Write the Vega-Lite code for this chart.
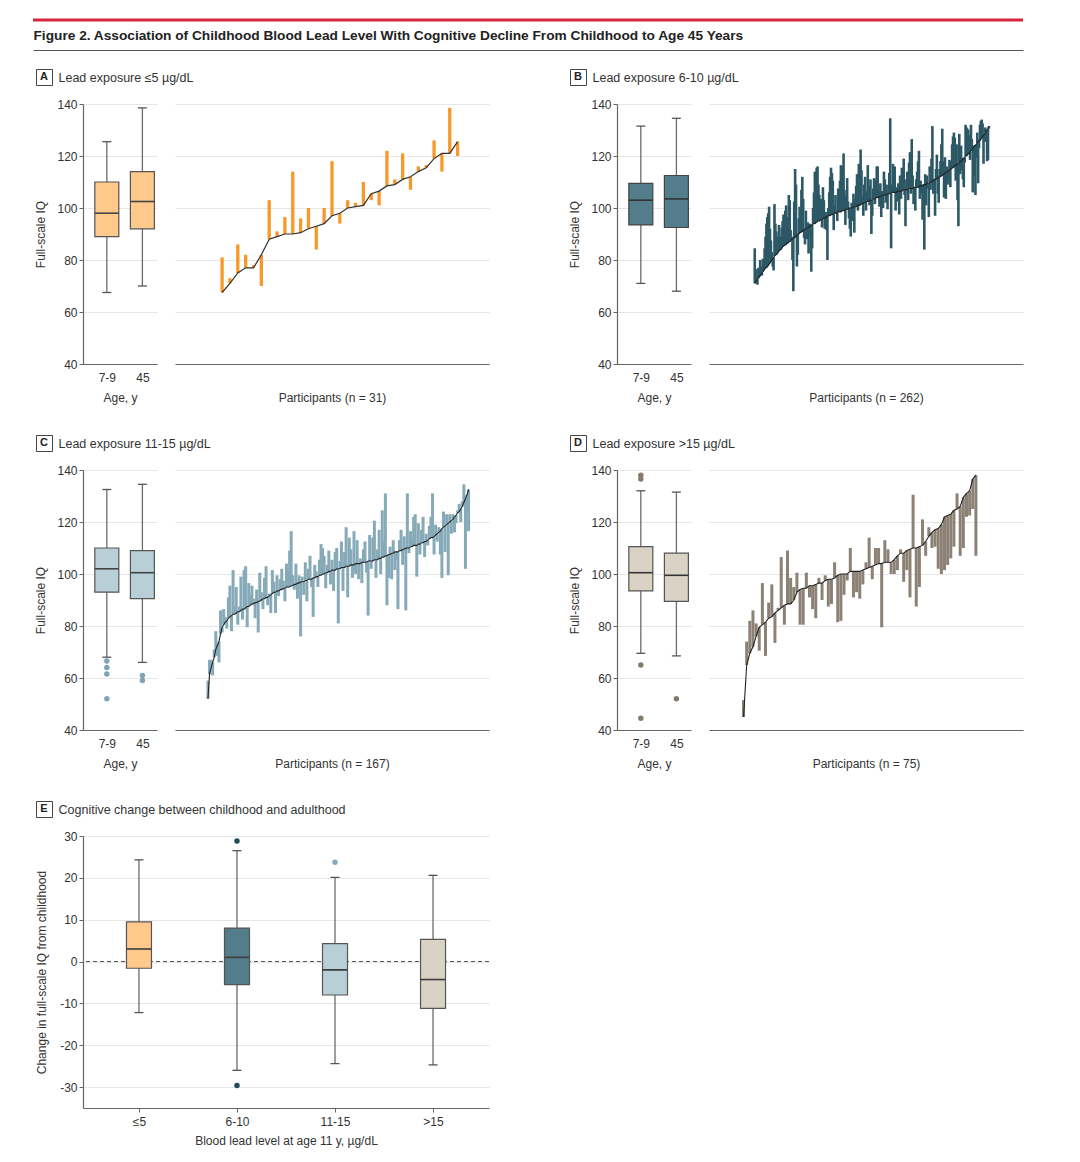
{
"$schema": "https://vega.github.io/schema/vega-lite/v6.json",
"padding": {"left": 31, "top": 18, "right": 5, "bottom": 5},
"background": "white",
"config": {
  "font": "Liberation Sans",
  "view": {"stroke": null},
  "axis": {"labelFont": "Liberation Sans", "titleFont": "Liberation Sans", "labelFontSize": 12, "labelColor": "#333", "titleFontSize": 12, "titleFontWeight": "normal", "titleColor": "#333", "domainColor": "#666", "tickColor": "#666", "gridColor": "#e6e6e6", "domainWidth": 1.2}
},
"datasets": {
"let": [{"t":"A"},{"t":"B"},{"t":"C"},{"t":"D"},{"t":"E"}],
"box": [
{"p":"A","g":"7-9","lo":67.5,"q1":89,"med":98,"q3":110,"hi":125.5},
{"p":"A","g":"45","lo":70,"q1":92,"med":102.5,"q3":114,"hi":138.5},
{"p":"B","g":"7-9","lo":71,"q1":93.5,"med":103,"q3":109.5,"hi":131.5},
{"p":"B","g":"45","lo":68,"q1":92.5,"med":103.5,"q3":112.5,"hi":134.5},
{"p":"C","g":"7-9","lo":68,"q1":93,"med":102,"q3":110,"hi":132.5},
{"p":"C","g":"45","lo":66,"q1":90.5,"med":100.5,"q3":109,"hi":134.5},
{"p":"D","g":"7-9","lo":69.5,"q1":93.5,"med":100.5,"q3":110.5,"hi":132},
{"p":"D","g":"45","lo":68.5,"q1":89.5,"med":99.5,"q3":108,"hi":131.5}
],
"out": [
{"p":"C","g":"7-9","v":66.5},{"p":"C","g":"7-9","v":64},{"p":"C","g":"7-9","v":61.5},{"p":"C","g":"7-9","v":52},
{"p":"C","g":"45","v":61},{"p":"C","g":"45","v":59},
{"p":"D","g":"7-9","v":138},{"p":"D","g":"7-9","v":136.5},{"p":"D","g":"7-9","v":65},{"p":"D","g":"7-9","v":44.5},
{"p":"D","g":"45","v":52}
],
"ebox": [
{"g":"≤5","lo":-12.2,"q1":-1.6,"med":3,"q3":9.5,"hi":24.3},
{"g":"6-10","lo":-26,"q1":-5.5,"med":1,"q3":8,"hi":26.5},
{"g":"11-15","lo":-24.4,"q1":-8,"med":-2,"q3":4.3,"hi":20.1},
{"g":">15","lo":-24.7,"q1":-11.2,"med":-4.3,"q3":5.3,"hi":20.6}
],
"eout": [{"g":"6-10","v":28.8},{"g":"6-10","v":-29.6},{"g":"11-15","v":23.7}],
"ezero": [{"z":0}],
"hdr": [{"v":0},{"v":1}],
"pa": [{"i":1,"c":67.5,"a":81},{"i":2,"c":71,"a":73},{"i":3,"c":75,"a":86},{"i":4,"c":77,"a":82},{"i":5,"c":77,"a":78},{"i":6,"c":82,"a":70},{"i":7,"c":88,"a":103},{"i":8,"c":89,"a":91},{"i":9,"c":90,"a":96.5},{"i":10,"c":90,"a":114},{"i":11,"c":90.5,"a":96},{"i":12,"c":92,"a":100},{"i":13,"c":93,"a":84},{"i":14,"c":94,"a":100},{"i":15,"c":97,"a":118},{"i":16,"c":98,"a":94},{"i":17,"c":100,"a":103},{"i":18,"c":100.5,"a":102},{"i":19,"c":101,"a":110},{"i":20,"c":105.5,"a":103},{"i":21,"c":106.5,"a":101},{"i":22,"c":108.5,"a":122},{"i":23,"c":109,"a":111},{"i":24,"c":111,"a":121},{"i":25,"c":112,"a":107},{"i":26,"c":114,"a":116},{"i":27,"c":115.5,"a":116.5},{"i":28,"c":119,"a":126},{"i":29,"c":121,"a":114},{"i":30,"c":121,"a":138.5},{"i":31,"c":125.5,"a":120}],
"pb": [{"i":1,"c":71,"a":84.5},{"i":2,"c":71.5,"a":76.5},{"i":3,"c":72,"a":74},{"i":4,"c":72.5,"a":70.5},{"i":5,"c":73,"a":77},{"i":6,"c":73.5,"a":74.5},{"i":7,"c":74,"a":80},{"i":8,"c":74.5,"a":77.5},{"i":9,"c":75,"a":74},{"i":10,"c":75.5,"a":80.5},
{"i":11,"c":76,"a":79},{"i":12,"c":76.5,"a":84.5},{"i":13,"c":77,"a":89},{"i":14,"c":77,"a":94},{"i":15,"c":77.5,"a":96.5},{"i":16,"c":78,"a":98},{"i":17,"c":78.5,"a":100.5},{"i":18,"c":79,"a":92},{"i":19,"c":79.5,"a":87.5},{"i":20,"c":80,"a":83},
{"i":21,"c":80.5,"a":77.5},{"i":22,"c":81,"a":76},{"i":23,"c":81.5,"a":101.5},{"i":24,"c":82,"a":94},{"i":25,"c":82,"a":91},{"i":26,"c":82.5,"a":86.5},{"i":27,"c":83,"a":89},{"i":28,"c":83.5,"a":93.5},{"i":29,"c":84,"a":86},{"i":30,"c":84,"a":89},
{"i":31,"c":84.5,"a":92.5},{"i":32,"c":85,"a":95},{"i":33,"c":85.5,"a":97.5},{"i":34,"c":85.5,"a":91.5},{"i":35,"c":86,"a":99},{"i":36,"c":86,"a":101},{"i":37,"c":86.5,"a":92.5},{"i":38,"c":86.5,"a":96.5},{"i":39,"c":87,"a":105},{"i":40,"c":87,"a":103},
{"i":41,"c":87.5,"a":91.5},{"i":42,"c":88,"a":89},{"i":43,"c":88,"a":80},{"i":44,"c":88.5,"a":68},{"i":45,"c":88.5,"a":102.5},{"i":46,"c":89,"a":115},{"i":47,"c":89,"a":109},{"i":48,"c":89.5,"a":77.5},{"i":49,"c":90,"a":82},{"i":50,"c":90,"a":96},
{"i":51,"c":90.5,"a":100.5},{"i":52,"c":90.5,"a":95.5},{"i":53,"c":91,"a":107},{"i":54,"c":91,"a":112},{"i":55,"c":91.5,"a":103.5},{"i":56,"c":91.5,"a":88.5},{"i":57,"c":92,"a":86},{"i":58,"c":92,"a":99},{"i":59,"c":92,"a":88},{"i":60,"c":92.5,"a":94.5},
{"i":61,"c":92.5,"a":82.5},{"i":62,"c":93,"a":94},{"i":63,"c":93,"a":89},{"i":64,"c":93.5,"a":75.5},{"i":65,"c":93.5,"a":84.5},{"i":66,"c":94,"a":100},{"i":67,"c":94,"a":106},{"i":68,"c":94,"a":114},{"i":69,"c":94.5,"a":111.5},{"i":70,"c":94.5,"a":115.5},
{"i":71,"c":95,"a":116},{"i":72,"c":95,"a":109},{"i":73,"c":95,"a":105},{"i":74,"c":95.5,"a":99.5},{"i":75,"c":95.5,"a":103.5},{"i":76,"c":95.5,"a":92.5},{"i":77,"c":96,"a":108},{"i":78,"c":96,"a":103},{"i":79,"c":96,"a":92},{"i":80,"c":96.5,"a":98.5},
{"i":81,"c":96.5,"a":91.5},{"i":82,"c":97,"a":80},{"i":83,"c":97,"a":100},{"i":84,"c":97,"a":106},{"i":85,"c":97,"a":112},{"i":86,"c":97.5,"a":115.5},{"i":87,"c":97.5,"a":113.5},{"i":88,"c":97.5,"a":110.5},{"i":89,"c":97.5,"a":91.5},{"i":90,"c":98,"a":101},
{"i":91,"c":98,"a":105},{"i":92,"c":98,"a":99},{"i":93,"c":98,"a":95},{"i":94,"c":98.5,"a":107.5},{"i":95,"c":98.5,"a":102.5},{"i":96,"c":98.5,"a":110.5},{"i":97,"c":98.5,"a":116.5},{"i":98,"c":99,"a":113},{"i":99,"c":99,"a":116},{"i":100,"c":99,"a":121},
{"i":101,"c":99,"a":107},{"i":102,"c":99.5,"a":93.5},{"i":103,"c":99.5,"a":104.5},{"i":104,"c":99.5,"a":111.5},{"i":105,"c":99.5,"a":102.5},{"i":106,"c":100,"a":96},{"i":107,"c":100,"a":92},{"i":108,"c":100,"a":89},{"i":109,"c":100,"a":102},{"i":110,"c":100,"a":95},
{"i":111,"c":100.5,"a":105.5},{"i":112,"c":100.5,"a":90.5},{"i":113,"c":100.5,"a":103.5},{"i":114,"c":100.5,"a":108.5},{"i":115,"c":101,"a":113},{"i":116,"c":101,"a":99},{"i":117,"c":101,"a":117},{"i":118,"c":101,"a":110},{"i":119,"c":101.5,"a":122.5},{"i":120,"c":101.5,"a":114.5},
{"i":121,"c":101.5,"a":104.5},{"i":122,"c":102,"a":97},{"i":123,"c":102,"a":109},{"i":124,"c":102,"a":112},{"i":125,"c":102,"a":99},{"i":126,"c":102.5,"a":106.5},{"i":127,"c":102.5,"a":116.5},{"i":128,"c":102.5,"a":108.5},{"i":129,"c":103,"a":101},{"i":130,"c":103,"a":111},
{"i":131,"c":103,"a":90},{"i":132,"c":103,"a":97},{"i":133,"c":103.5,"a":107.5},{"i":134,"c":103.5,"a":111.5},{"i":135,"c":103.5,"a":101.5},{"i":136,"c":104,"a":111},{"i":137,"c":104,"a":116},{"i":138,"c":104,"a":116},{"i":139,"c":104,"a":107},{"i":140,"c":104.5,"a":100.5},
{"i":141,"c":104.5,"a":109.5},{"i":142,"c":104.5,"a":96.5},{"i":143,"c":104.5,"a":106.5},{"i":144,"c":105,"a":100},{"i":145,"c":105,"a":114},{"i":146,"c":105,"a":111},{"i":147,"c":105,"a":102},{"i":148,"c":105,"a":109},{"i":149,"c":105.5,"a":99.5},{"i":150,"c":105.5,"a":106.5},
{"i":151,"c":105.5,"a":113.5},{"i":152,"c":105.5,"a":134.5},{"i":153,"c":105.5,"a":84.5},{"i":154,"c":106,"a":109},{"i":155,"c":106,"a":117},{"i":156,"c":106,"a":110},{"i":157,"c":106,"a":116},{"i":158,"c":106,"a":99},{"i":159,"c":106,"a":108},{"i":160,"c":106.5,"a":102.5},
{"i":161,"c":106.5,"a":109.5},{"i":162,"c":106.5,"a":97.5},{"i":163,"c":106.5,"a":112.5},{"i":164,"c":106.5,"a":103.5},{"i":165,"c":106.5,"a":115.5},{"i":166,"c":107,"a":112},{"i":167,"c":107,"a":119},{"i":168,"c":107,"a":105},{"i":169,"c":107,"a":93},{"i":170,"c":107,"a":111},
{"i":171,"c":107,"a":114},{"i":172,"c":107,"a":103},{"i":173,"c":107.5,"a":117.5},{"i":174,"c":107.5,"a":121.5},{"i":175,"c":107.5,"a":105.5},{"i":176,"c":107.5,"a":126.5},{"i":177,"c":107.5,"a":112.5},{"i":178,"c":107.5,"a":101.5},{"i":179,"c":108,"a":105},{"i":180,"c":108,"a":99},
{"i":181,"c":108,"a":111},{"i":182,"c":108,"a":114},{"i":183,"c":108,"a":118},{"i":184,"c":108,"a":122},{"i":185,"c":108.5,"a":103.5},{"i":186,"c":108.5,"a":110.5},{"i":187,"c":108.5,"a":105.5},{"i":188,"c":108.5,"a":95.5},{"i":189,"c":109,"a":103},{"i":190,"c":109,"a":84},
{"i":191,"c":109,"a":113},{"i":192,"c":109,"a":101},{"i":193,"c":109.5,"a":112.5},{"i":194,"c":109.5,"a":107.5},{"i":195,"c":109.5,"a":96.5},{"i":196,"c":110,"a":116},{"i":197,"c":110,"a":107},{"i":198,"c":110,"a":119},{"i":199,"c":110.5,"a":131.5},{"i":200,"c":110.5,"a":105.5},
{"i":201,"c":111,"a":109},{"i":202,"c":111,"a":97},{"i":203,"c":111,"a":115},{"i":204,"c":111.5,"a":120.5},{"i":205,"c":111.5,"a":105.5},{"i":206,"c":112,"a":102},{"i":207,"c":112,"a":115},{"i":208,"c":112,"a":118},{"i":209,"c":112.5,"a":124.5},{"i":210,"c":112.5,"a":130.5},
{"i":211,"c":113,"a":118},{"i":212,"c":113,"a":104},{"i":213,"c":113.5,"a":119.5},{"i":214,"c":113.5,"a":103.5},{"i":215,"c":114,"a":116},{"i":216,"c":114,"a":109},{"i":217,"c":114.5,"a":111.5},{"i":218,"c":114.5,"a":118.5},{"i":219,"c":115,"a":108},{"i":220,"c":115,"a":118},
{"i":221,"c":115.5,"a":124.5},{"i":222,"c":115.5,"a":127.5},{"i":223,"c":116,"a":129},{"i":224,"c":116,"a":127},{"i":225,"c":116.5,"a":110.5},{"i":226,"c":116.5,"a":124.5},{"i":227,"c":117,"a":103},{"i":228,"c":117,"a":93},{"i":229,"c":117.5,"a":128.5},{"i":230,"c":118,"a":113},
{"i":231,"c":118,"a":124},{"i":232,"c":118.5,"a":114.5},{"i":233,"c":119,"a":111},{"i":234,"c":119,"a":108},{"i":235,"c":119.5,"a":117.5},{"i":236,"c":120,"a":132},{"i":237,"c":120,"a":131},{"i":238,"c":120.5,"a":130.5},{"i":239,"c":121,"a":130},{"i":240,"c":121,"a":128},
{"i":241,"c":121.5,"a":118.5},{"i":242,"c":122,"a":132},{"i":243,"c":122.5,"a":126.5},{"i":244,"c":123,"a":106},{"i":245,"c":123.5,"a":115.5},{"i":246,"c":124,"a":112},{"i":247,"c":124,"a":105},{"i":248,"c":124.5,"a":119.5},{"i":249,"c":125,"a":129},{"i":250,"c":125.5,"a":109.5},
{"i":251,"c":126,"a":123},{"i":252,"c":126,"a":132},{"i":253,"c":126.5,"a":133.5},{"i":254,"c":127,"a":134},{"i":255,"c":127.5,"a":132.5},{"i":256,"c":128,"a":117},{"i":257,"c":128.5,"a":125.5},{"i":258,"c":129,"a":131},{"i":259,"c":129.5,"a":125.5},{"i":260,"c":130,"a":118},
{"i":261,"c":130.5,"a":118.5},{"i":262,"c":131.5,"a":130.5}],
"pc": [{"i":1,"c":52,"a":59},{"i":2,"c":61.5,"a":67},{"i":3,"c":64,"a":67},{"i":4,"c":66,"a":61},{"i":5,"c":68,"a":71},{"i":6,"c":71,"a":78},{"i":7,"c":72.5,"a":68.5},{"i":8,"c":74,"a":66},{"i":9,"c":77,"a":86},{"i":10,"c":79.5,"a":77.5},
{"i":11,"c":80.5,"a":86.5},{"i":12,"c":81.5,"a":83.5},{"i":13,"c":82,"a":79},{"i":14,"c":83,"a":91},{"i":15,"c":83.5,"a":95.5},{"i":16,"c":84,"a":78},{"i":17,"c":84.5,"a":101.5},{"i":18,"c":84.5,"a":87.5},{"i":19,"c":85,"a":95},{"i":20,"c":85.5,"a":80.5},
{"i":21,"c":85.5,"a":87.5},{"i":22,"c":86,"a":99},{"i":23,"c":86.5,"a":82.5},{"i":24,"c":86.5,"a":101.5},{"i":25,"c":87,"a":103},{"i":26,"c":87.5,"a":79.5},{"i":27,"c":87.5,"a":96.5},{"i":28,"c":88,"a":92},{"i":29,"c":88.5,"a":95.5},{"i":30,"c":88.5,"a":90.5},
{"i":31,"c":89,"a":83},{"i":32,"c":89,"a":94},{"i":33,"c":89.5,"a":77.5},{"i":34,"c":89.5,"a":100.5},{"i":35,"c":90,"a":93},{"i":36,"c":90.5,"a":86.5},{"i":37,"c":90.5,"a":98.5},{"i":38,"c":91,"a":103},{"i":39,"c":91,"a":88},{"i":40,"c":91.5,"a":92.5},
{"i":41,"c":92,"a":85},{"i":42,"c":92.5,"a":101.5},{"i":43,"c":93,"a":97},{"i":44,"c":93,"a":85},{"i":45,"c":93.5,"a":99.5},{"i":46,"c":93.5,"a":91.5},{"i":47,"c":94,"a":98},{"i":48,"c":94,"a":102},{"i":49,"c":94.5,"a":97.5},{"i":50,"c":94.5,"a":89.5},
{"i":51,"c":95,"a":104},{"i":52,"c":95,"a":101},{"i":53,"c":95,"a":109},{"i":54,"c":95.5,"a":116.5},{"i":55,"c":95.5,"a":99.5},{"i":56,"c":96,"a":94},{"i":57,"c":96,"a":104},{"i":58,"c":96.5,"a":90.5},{"i":59,"c":96.5,"a":99.5},{"i":60,"c":97,"a":76},
{"i":61,"c":97,"a":99},{"i":62,"c":97,"a":92},{"i":63,"c":97.5,"a":104.5},{"i":64,"c":97.5,"a":89.5},{"i":65,"c":98,"a":102},{"i":66,"c":98,"a":107},{"i":67,"c":98,"a":95},{"i":68,"c":98.5,"a":83.5},{"i":69,"c":98.5,"a":103.5},{"i":70,"c":99,"a":101},
{"i":71,"c":99,"a":95},{"i":72,"c":99.5,"a":105.5},{"i":73,"c":99.5,"a":111.5},{"i":74,"c":100,"a":110},{"i":75,"c":100,"a":107},{"i":76,"c":100.5,"a":94.5},{"i":77,"c":100.5,"a":103.5},{"i":78,"c":101,"a":109},{"i":79,"c":101,"a":96},{"i":80,"c":101.5,"a":105.5},
{"i":81,"c":101.5,"a":93.5},{"i":82,"c":101.5,"a":108.5},{"i":83,"c":102,"a":110},{"i":84,"c":102,"a":81},{"i":85,"c":102,"a":105},{"i":86,"c":102.5,"a":112.5},{"i":87,"c":102.5,"a":93.5},{"i":88,"c":102.5,"a":108.5},{"i":89,"c":103,"a":118},{"i":90,"c":103,"a":91},
{"i":91,"c":103,"a":114},{"i":92,"c":103.5,"a":109.5},{"i":93,"c":103.5,"a":98.5},{"i":94,"c":103.5,"a":116.5},{"i":95,"c":104,"a":100},{"i":96,"c":104,"a":113},{"i":97,"c":104,"a":98},{"i":98,"c":104,"a":106},{"i":99,"c":104.5,"a":96.5},{"i":100,"c":104.5,"a":109.5},
{"i":101,"c":104.5,"a":112.5},{"i":102,"c":104.5,"a":100.5},{"i":103,"c":105,"a":84},{"i":104,"c":105,"a":115},{"i":105,"c":105,"a":102},{"i":106,"c":105,"a":114},{"i":107,"c":105.5,"a":120.5},{"i":108,"c":105.5,"a":98.5},{"i":109,"c":105.5,"a":109.5},{"i":110,"c":106,"a":117},
{"i":111,"c":106,"a":100},{"i":112,"c":106.5,"a":124.5},{"i":113,"c":106.5,"a":112.5},{"i":114,"c":107,"a":131},{"i":115,"c":107,"a":88},{"i":116,"c":107.5,"a":98.5},{"i":117,"c":107.5,"a":110.5},{"i":118,"c":108,"a":98},{"i":119,"c":108,"a":113},{"i":120,"c":108.5,"a":101.5},
{"i":121,"c":108.5,"a":105.5},{"i":122,"c":108.5,"a":86.5},{"i":123,"c":109,"a":113},{"i":124,"c":109,"a":117},{"i":125,"c":109.5,"a":103.5},{"i":126,"c":109.5,"a":114.5},{"i":127,"c":110,"a":86},{"i":128,"c":110,"a":131},{"i":129,"c":110,"a":108},{"i":130,"c":110.5,"a":116.5},
{"i":131,"c":110.5,"a":113.5},{"i":132,"c":111,"a":122},{"i":133,"c":111,"a":123},{"i":134,"c":111,"a":99},{"i":135,"c":111.5,"a":119.5},{"i":136,"c":111.5,"a":107.5},{"i":137,"c":112,"a":117},{"i":138,"c":112,"a":122},{"i":139,"c":112.5,"a":106.5},{"i":140,"c":112.5,"a":115.5},
{"i":141,"c":113,"a":111},{"i":142,"c":113.5,"a":118.5},{"i":143,"c":114,"a":122},{"i":144,"c":114,"a":131},{"i":145,"c":114.5,"a":107.5},{"i":146,"c":115,"a":119},{"i":147,"c":115.5,"a":112.5},{"i":148,"c":116,"a":118},{"i":149,"c":116.5,"a":107.5},{"i":150,"c":117.5,"a":98.5},
{"i":151,"c":118,"a":124},{"i":152,"c":118.5,"a":108.5},{"i":153,"c":119,"a":123},{"i":154,"c":119.5,"a":99.5},{"i":155,"c":120,"a":123},{"i":156,"c":120.5,"a":115.5},{"i":157,"c":121,"a":123},{"i":158,"c":122,"a":116},{"i":159,"c":122.5,"a":119.5},{"i":160,"c":123.5,"a":124.5},
{"i":161,"c":124,"a":127},{"i":162,"c":125,"a":120},{"i":163,"c":126,"a":128},{"i":164,"c":127.5,"a":134.5},{"i":165,"c":129,"a":102},{"i":166,"c":130.5,"a":124.5},{"i":167,"c":132.5,"a":116.5}],
"pd": [{"i":1,"c":45,"a":51.5},{"i":2,"c":65,"a":74},{"i":3,"c":69.5,"a":82},{"i":4,"c":72,"a":86},{"i":5,"c":76,"a":81},{"i":6,"c":79.5,"a":70.5},{"i":7,"c":80.5,"a":96.5},{"i":8,"c":81.5,"a":68.5},{"i":9,"c":83,"a":89},{"i":10,"c":83.5,"a":96},
{"i":11,"c":85,"a":73.5},{"i":12,"c":86,"a":87},{"i":13,"c":87,"a":106.5},{"i":14,"c":88,"a":80.5},{"i":15,"c":88.5,"a":109},{"i":16,"c":88.5,"a":98.5},{"i":17,"c":90,"a":95},{"i":18,"c":93,"a":100.5},{"i":19,"c":94,"a":80.5},{"i":20,"c":94.5,"a":80.5},
{"i":21,"c":94.5,"a":100.5},{"i":22,"c":95.5,"a":91},{"i":23,"c":95.5,"a":86.5},{"i":24,"c":96,"a":83},{"i":25,"c":96.5,"a":98.5},{"i":26,"c":96.5,"a":90},{"i":27,"c":97.5,"a":99.5},{"i":28,"c":98,"a":87.5},{"i":29,"c":98,"a":88.5},{"i":30,"c":98.5,"a":104.5},
{"i":31,"c":99.5,"a":81.5},{"i":32,"c":100,"a":82},{"i":33,"c":100,"a":92},{"i":34,"c":100,"a":97.5},{"i":35,"c":101,"a":110},{"i":36,"c":101,"a":91},{"i":37,"c":101,"a":93},{"i":38,"c":101,"a":90.5},{"i":39,"c":101.5,"a":96},{"i":40,"c":102,"a":104.5},
{"i":41,"c":102.5,"a":114},{"i":42,"c":103,"a":98},{"i":43,"c":103.5,"a":110},{"i":44,"c":104,"a":110},{"i":45,"c":104,"a":79.5},{"i":46,"c":104.5,"a":113},{"i":47,"c":104.5,"a":109.5},{"i":48,"c":104.5,"a":100},{"i":49,"c":105.5,"a":100},{"i":50,"c":107,"a":101.5},
{"i":51,"c":108,"a":109.5},{"i":52,"c":108,"a":97},{"i":53,"c":109,"a":101.5},{"i":54,"c":109.5,"a":91},{"i":55,"c":110,"a":130.5},{"i":56,"c":110,"a":87.5},{"i":57,"c":110.5,"a":95},{"i":58,"c":111,"a":121},{"i":59,"c":112.5,"a":107},{"i":60,"c":114.5,"a":118},
{"i":61,"c":116,"a":110},{"i":62,"c":117,"a":110.5},{"i":63,"c":117.5,"a":102},{"i":64,"c":119,"a":100},{"i":65,"c":122,"a":101.5},{"i":66,"c":122.5,"a":103.5},{"i":67,"c":123,"a":106},{"i":68,"c":124.5,"a":110.5},{"i":69,"c":125,"a":131},{"i":70,"c":126,"a":107},
{"i":71,"c":129.5,"a":110},{"i":72,"c":131,"a":122},{"i":73,"c":132,"a":122.5},{"i":74,"c":136.5,"a":125},{"i":75,"c":138,"a":107}]
},
"spacing": 16,
"vconcat": [
{
  "width": 990, "height": 30,
  "view": {"stroke": "#d7263d", "strokeWidth": 3, "strokeDash": [990, 2000]},
  "data": {"name": "hdr"},
  "mark": {"type": "rule", "opacity": 0},
  "encoding": {
    "x": {"field": "v", "type": "quantitative", "scale": {"domain": [0, 1]}, "axis": {"domainColor": "#555", "domainWidth": 1.2, "ticks": false, "labels": false, "grid": false, "title": "Figure 2. Association of Childhood Blood Lead Level With Cognitive Decline From Childhood to Age 45 Years", "titleAnchor": "start", "titleAlign": "left", "titleX": 0, "titleY": -11, "titleBaseline": "alphabetic", "titleFontSize": 13.7, "titleFontWeight": "bold", "titleColor": "#222"}}
  }
},
{
  "spacing": 31,
  "vconcat": [
  {
    "spacing": 12,
    "vconcat": [
      {
        "bounds": "flush", "spacing": 0,
        "hconcat": [
          {"width": 3, "height": 16, "data": {"name": "hdr"}, "mark": {"type": "rule", "opacity": 0}, "encoding": {"y": {"field": "v", "type": "quantitative", "axis": null}}},
          {"width": 16, "height": 16, "view": {"stroke": "#444", "strokeWidth": 1}, "data": {"name": "let"}, "transform": [{"filter": "datum.t == 'A'"}], "mark": {"type": "text", "fontSize": 11, "fontWeight": "bold", "color": "#222", "baseline": "middle"}, "encoding": {"text": {"field": "t"}, "y": {"field": "t", "type": "nominal", "axis": {"orient": "right", "title": "Lead exposure ≤5 µg/dL", "titleAngle": 0, "titleAlign": "left", "titleBaseline": "middle", "titlePadding": 6, "labels": false, "ticks": false, "domain": false, "grid": false, "titleFontSize": 12.5, "titleColor": "#333"}}}},
          {"width": 518, "height": 16, "data": {"name": "hdr"}, "mark": {"type": "rule", "opacity": 0}, "encoding": {"y": {"field": "v", "type": "quantitative", "axis": null}}},
          {"width": 16, "height": 16, "view": {"stroke": "#444", "strokeWidth": 1}, "data": {"name": "let"}, "transform": [{"filter": "datum.t == 'B'"}], "mark": {"type": "text", "fontSize": 11, "fontWeight": "bold", "color": "#222", "baseline": "middle"}, "encoding": {"text": {"field": "t"}, "y": {"field": "t", "type": "nominal", "axis": {"orient": "right", "title": "Lead exposure 6-10 µg/dL", "titleAngle": 0, "titleAlign": "left", "titleBaseline": "middle", "titlePadding": 6, "labels": false, "ticks": false, "domain": false, "grid": false, "titleFontSize": 12.5, "titleColor": "#333"}}}}
        ]
      },
      {
        "bounds": "flush", "spacing": 18,
        "hconcat": [
          {"width": 32, "height": 260, "data": {"name": "hdr"}, "mark": {"type": "rule", "opacity": 0}, "encoding": {"y": {"field": "v", "type": "quantitative", "axis": null}}},
          {
            "width": 74, "height": 260,
            "data": {"name": "box"},
            "transform": [{"filter": "datum.p == 'A'"}],
            "layer": [
              {"mark": {"type": "rule", "color": "#6b6b6b", "strokeWidth": 1.3}, "encoding": {"x": {"field": "g", "type": "ordinal", "sort": ["7-9", "45"], "scale": {"type": "point", "padding": 0.54, "align": 0.62}, "axis": {"title": "Age, y", "labelAngle": 0, "ticks": false, "labelPadding": 8, "titlePadding": 9}}, "y": {"field": "lo", "type": "quantitative", "scale": {"domain": [40, 140]}, "axis": {"values": [40, 60, 80, 100, 120, 140], "title": "Full-scale IQ", "grid": true, "tickSize": 4, "labelPadding": 2, "titlePadding": 9}}, "y2": {"field": "hi"}}},
              {"mark": {"type": "tick", "color": "#555", "size": 9, "thickness": 1.3, "opacity": 1}, "encoding": {"x": {"field": "g", "type": "ordinal", "sort": ["7-9", "45"]}, "y": {"field": "lo", "type": "quantitative"}}},
              {"mark": {"type": "tick", "color": "#555", "size": 9, "thickness": 1.3, "opacity": 1}, "encoding": {"x": {"field": "g", "type": "ordinal", "sort": ["7-9", "45"]}, "y": {"field": "hi", "type": "quantitative"}}},
              {"mark": {"type": "bar", "width": 24, "fill": "#FEC98B", "stroke": "#555", "strokeWidth": 1.2, "opacity": 1}, "encoding": {"x": {"field": "g", "type": "ordinal", "sort": ["7-9", "45"]}, "y": {"field": "q1", "type": "quantitative"}, "y2": {"field": "q3"}}},
              {"mark": {"type": "tick", "color": "#444", "size": 24, "thickness": 1.6, "opacity": 1}, "encoding": {"x": {"field": "g", "type": "ordinal", "sort": ["7-9", "45"]}, "y": {"field": "med", "type": "quantitative"}}}
            ]
          },
          {
            "width": 314, "height": 260,
            "data": {"name": "pa"},
            "layer": [
              {"mark": {"type": "rule", "color": "#F7982A", "strokeWidth": 3.3}, "encoding": {"x": {"field": "i", "type": "quantitative", "scale": {"domain": [-2, 33.5]}, "axis": {"title": "Participants (n = 31)", "labels": false, "ticks": false, "grid": false, "titlePadding": 28}}, "y": {"field": "c", "type": "quantitative", "scale": {"domain": [40, 140]}, "axis": {"values": [40, 60, 80, 100, 120, 140], "labels": false, "ticks": false, "domain": false, "title": null, "grid": true}}, "y2": {"field": "a"}}},
              {"mark": {"type": "line", "color": "#333", "strokeWidth": 1.2}, "encoding": {"x": {"field": "i", "type": "quantitative"}, "y": {"field": "c", "type": "quantitative"}}}
            ]
          },
          {"width": 92, "height": 260, "data": {"name": "hdr"}, "mark": {"type": "rule", "opacity": 0}, "encoding": {"y": {"field": "v", "type": "quantitative", "axis": null}}},
          {
            "width": 74, "height": 260,
            "data": {"name": "box"},
            "transform": [{"filter": "datum.p == 'B'"}],
            "layer": [
              {"mark": {"type": "rule", "color": "#6b6b6b", "strokeWidth": 1.3}, "encoding": {"x": {"field": "g", "type": "ordinal", "sort": ["7-9", "45"], "scale": {"type": "point", "padding": 0.54, "align": 0.62}, "axis": {"title": "Age, y", "labelAngle": 0, "ticks": false, "labelPadding": 8, "titlePadding": 9}}, "y": {"field": "lo", "type": "quantitative", "scale": {"domain": [40, 140]}, "axis": {"values": [40, 60, 80, 100, 120, 140], "title": "Full-scale IQ", "grid": true, "tickSize": 4, "labelPadding": 2, "titlePadding": 9}}, "y2": {"field": "hi"}}},
              {"mark": {"type": "tick", "color": "#555", "size": 9, "thickness": 1.3, "opacity": 1}, "encoding": {"x": {"field": "g", "type": "ordinal", "sort": ["7-9", "45"]}, "y": {"field": "lo", "type": "quantitative"}}},
              {"mark": {"type": "tick", "color": "#555", "size": 9, "thickness": 1.3, "opacity": 1}, "encoding": {"x": {"field": "g", "type": "ordinal", "sort": ["7-9", "45"]}, "y": {"field": "hi", "type": "quantitative"}}},
              {"mark": {"type": "bar", "width": 24, "fill": "#547D8B", "stroke": "#444", "strokeWidth": 1.2, "opacity": 1}, "encoding": {"x": {"field": "g", "type": "ordinal", "sort": ["7-9", "45"]}, "y": {"field": "q1", "type": "quantitative"}, "y2": {"field": "q3"}}},
              {"mark": {"type": "tick", "color": "#333", "size": 24, "thickness": 1.6, "opacity": 1}, "encoding": {"x": {"field": "g", "type": "ordinal", "sort": ["7-9", "45"]}, "y": {"field": "med", "type": "quantitative"}}}
            ]
          },
          {
            "width": 314, "height": 260,
            "data": {"name": "pb"},
            "layer": [
              {"mark": {"type": "rule", "color": "#2D5866", "strokeWidth": 2.6}, "encoding": {"x": {"field": "i", "type": "quantitative", "scale": {"domain": [-23.5, 283.8]}, "axis": {"title": "Participants (n = 262)", "labels": false, "ticks": false, "grid": false, "titlePadding": 28}}, "y": {"field": "c", "type": "quantitative", "scale": {"domain": [40, 140]}, "axis": {"values": [40, 60, 80, 100, 120, 140], "labels": false, "ticks": false, "domain": false, "title": null, "grid": true}}, "y2": {"field": "a"}}},
              {"mark": {"type": "line", "color": "#222", "strokeWidth": 1.1}, "encoding": {"x": {"field": "i", "type": "quantitative"}, "y": {"field": "c", "type": "quantitative"}}}
            ]
          }
        ]
      }
    ]
  },
  {
    "spacing": 12,
    "vconcat": [
      {
        "bounds": "flush", "spacing": 0,
        "hconcat": [
          {"width": 3, "height": 16, "data": {"name": "hdr"}, "mark": {"type": "rule", "opacity": 0}, "encoding": {"y": {"field": "v", "type": "quantitative", "axis": null}}},
          {"width": 16, "height": 16, "view": {"stroke": "#444", "strokeWidth": 1}, "data": {"name": "let"}, "transform": [{"filter": "datum.t == 'C'"}], "mark": {"type": "text", "fontSize": 11, "fontWeight": "bold", "color": "#222", "baseline": "middle"}, "encoding": {"text": {"field": "t"}, "y": {"field": "t", "type": "nominal", "axis": {"orient": "right", "title": "Lead exposure 11-15 µg/dL", "titleAngle": 0, "titleAlign": "left", "titleBaseline": "middle", "titlePadding": 6, "labels": false, "ticks": false, "domain": false, "grid": false, "titleFontSize": 12.5, "titleColor": "#333"}}}},
          {"width": 518, "height": 16, "data": {"name": "hdr"}, "mark": {"type": "rule", "opacity": 0}, "encoding": {"y": {"field": "v", "type": "quantitative", "axis": null}}},
          {"width": 16, "height": 16, "view": {"stroke": "#444", "strokeWidth": 1}, "data": {"name": "let"}, "transform": [{"filter": "datum.t == 'D'"}], "mark": {"type": "text", "fontSize": 11, "fontWeight": "bold", "color": "#222", "baseline": "middle"}, "encoding": {"text": {"field": "t"}, "y": {"field": "t", "type": "nominal", "axis": {"orient": "right", "title": "Lead exposure >15 µg/dL", "titleAngle": 0, "titleAlign": "left", "titleBaseline": "middle", "titlePadding": 6, "labels": false, "ticks": false, "domain": false, "grid": false, "titleFontSize": 12.5, "titleColor": "#333"}}}}
        ]
      },
      {
        "bounds": "flush", "spacing": 18,
        "hconcat": [
          {"width": 32, "height": 260, "data": {"name": "hdr"}, "mark": {"type": "rule", "opacity": 0}, "encoding": {"y": {"field": "v", "type": "quantitative", "axis": null}}},
          {
            "width": 74, "height": 260,
            "data": {"name": "box"},
            "transform": [{"filter": "datum.p == 'C'"}],
            "layer": [
              {"mark": {"type": "rule", "color": "#6b6b6b", "strokeWidth": 1.3}, "encoding": {"x": {"field": "g", "type": "ordinal", "sort": ["7-9", "45"], "scale": {"type": "point", "padding": 0.54, "align": 0.62}, "axis": {"title": "Age, y", "labelAngle": 0, "ticks": false, "labelPadding": 8, "titlePadding": 9}}, "y": {"field": "lo", "type": "quantitative", "scale": {"domain": [40, 140]}, "axis": {"values": [40, 60, 80, 100, 120, 140], "title": "Full-scale IQ", "grid": true, "tickSize": 4, "labelPadding": 2, "titlePadding": 9}}, "y2": {"field": "hi"}}},
              {"mark": {"type": "tick", "color": "#555", "size": 9, "thickness": 1.3, "opacity": 1}, "encoding": {"x": {"field": "g", "type": "ordinal", "sort": ["7-9", "45"]}, "y": {"field": "lo", "type": "quantitative"}}},
              {"mark": {"type": "tick", "color": "#555", "size": 9, "thickness": 1.3, "opacity": 1}, "encoding": {"x": {"field": "g", "type": "ordinal", "sort": ["7-9", "45"]}, "y": {"field": "hi", "type": "quantitative"}}},
              {"mark": {"type": "bar", "width": 24, "fill": "#B9CFD8", "stroke": "#555", "strokeWidth": 1.2, "opacity": 1}, "encoding": {"x": {"field": "g", "type": "ordinal", "sort": ["7-9", "45"]}, "y": {"field": "q1", "type": "quantitative"}, "y2": {"field": "q3"}}},
              {"mark": {"type": "tick", "color": "#444", "size": 24, "thickness": 1.6, "opacity": 1}, "encoding": {"x": {"field": "g", "type": "ordinal", "sort": ["7-9", "45"]}, "y": {"field": "med", "type": "quantitative"}}},
              {"data": {"name": "out"}, "transform": [{"filter": "datum.p == 'C'"}], "mark": {"type": "circle", "size": 30, "opacity": 1, "color": "#7FA5B4"}, "encoding": {"x": {"field": "g", "type": "ordinal", "sort": ["7-9", "45"]}, "y": {"field": "v", "type": "quantitative"}}}
            ]
          },
          {
            "width": 314, "height": 260,
            "data": {"name": "pc"},
            "layer": [
              {"mark": {"type": "rule", "color": "#86AAB8", "strokeWidth": 3}, "encoding": {"x": {"field": "i", "type": "quantitative", "scale": {"domain": [-10.4, 178.4]}, "axis": {"title": "Participants (n = 167)", "labels": false, "ticks": false, "grid": false, "titlePadding": 28}}, "y": {"field": "c", "type": "quantitative", "scale": {"domain": [40, 140]}, "axis": {"values": [40, 60, 80, 100, 120, 140], "labels": false, "ticks": false, "domain": false, "title": null, "grid": true}}, "y2": {"field": "a"}}},
              {"mark": {"type": "line", "color": "#222", "strokeWidth": 1.1}, "encoding": {"x": {"field": "i", "type": "quantitative"}, "y": {"field": "c", "type": "quantitative"}}}
            ]
          },
          {"width": 92, "height": 260, "data": {"name": "hdr"}, "mark": {"type": "rule", "opacity": 0}, "encoding": {"y": {"field": "v", "type": "quantitative", "axis": null}}},
          {
            "width": 74, "height": 260,
            "data": {"name": "box"},
            "transform": [{"filter": "datum.p == 'D'"}],
            "layer": [
              {"mark": {"type": "rule", "color": "#6b6b6b", "strokeWidth": 1.3}, "encoding": {"x": {"field": "g", "type": "ordinal", "sort": ["7-9", "45"], "scale": {"type": "point", "padding": 0.54, "align": 0.62}, "axis": {"title": "Age, y", "labelAngle": 0, "ticks": false, "labelPadding": 8, "titlePadding": 9}}, "y": {"field": "lo", "type": "quantitative", "scale": {"domain": [40, 140]}, "axis": {"values": [40, 60, 80, 100, 120, 140], "title": "Full-scale IQ", "grid": true, "tickSize": 4, "labelPadding": 2, "titlePadding": 9}}, "y2": {"field": "hi"}}},
              {"mark": {"type": "tick", "color": "#555", "size": 9, "thickness": 1.3, "opacity": 1}, "encoding": {"x": {"field": "g", "type": "ordinal", "sort": ["7-9", "45"]}, "y": {"field": "lo", "type": "quantitative"}}},
              {"mark": {"type": "tick", "color": "#555", "size": 9, "thickness": 1.3, "opacity": 1}, "encoding": {"x": {"field": "g", "type": "ordinal", "sort": ["7-9", "45"]}, "y": {"field": "hi", "type": "quantitative"}}},
              {"mark": {"type": "bar", "width": 24, "fill": "#DAD2C5", "stroke": "#555", "strokeWidth": 1.2, "opacity": 1}, "encoding": {"x": {"field": "g", "type": "ordinal", "sort": ["7-9", "45"]}, "y": {"field": "q1", "type": "quantitative"}, "y2": {"field": "q3"}}},
              {"mark": {"type": "tick", "color": "#333", "size": 24, "thickness": 1.6, "opacity": 1}, "encoding": {"x": {"field": "g", "type": "ordinal", "sort": ["7-9", "45"]}, "y": {"field": "med", "type": "quantitative"}}},
              {"data": {"name": "out"}, "transform": [{"filter": "datum.p == 'D'"}], "mark": {"type": "circle", "size": 30, "opacity": 1, "color": "#867A6D"}, "encoding": {"x": {"field": "g", "type": "ordinal", "sort": ["7-9", "45"]}, "y": {"field": "v", "type": "quantitative"}}}
            ]
          },
          {
            "width": 314, "height": 260,
            "data": {"name": "pd"},
            "layer": [
              {"mark": {"type": "rule", "color": "#8B8174", "strokeWidth": 3}, "encoding": {"x": {"field": "i", "type": "quantitative", "scale": {"domain": [-6.8, 83.3]}, "axis": {"title": "Participants (n = 75)", "labels": false, "ticks": false, "grid": false, "titlePadding": 28}}, "y": {"field": "c", "type": "quantitative", "scale": {"domain": [40, 140]}, "axis": {"values": [40, 60, 80, 100, 120, 140], "labels": false, "ticks": false, "domain": false, "title": null, "grid": true}}, "y2": {"field": "a"}}},
              {"mark": {"type": "line", "color": "#222", "strokeWidth": 1.1}, "encoding": {"x": {"field": "i", "type": "quantitative"}, "y": {"field": "c", "type": "quantitative"}}}
            ]
          }
        ]
      }
    ]
  },
  {
    "spacing": 12,
    "vconcat": [
      {
        "bounds": "flush", "spacing": 0,
        "hconcat": [
          {"width": 3, "height": 16, "data": {"name": "hdr"}, "mark": {"type": "rule", "opacity": 0}, "encoding": {"y": {"field": "v", "type": "quantitative", "axis": null}}},
          {"width": 16, "height": 16, "view": {"stroke": "#444", "strokeWidth": 1}, "data": {"name": "let"}, "transform": [{"filter": "datum.t == 'E'"}], "mark": {"type": "text", "fontSize": 11, "fontWeight": "bold", "color": "#222", "baseline": "middle"}, "encoding": {"text": {"field": "t"}, "y": {"field": "t", "type": "nominal", "axis": {"orient": "right", "title": "Cognitive change between childhood and adulthood", "titleAngle": 0, "titleAlign": "left", "titleBaseline": "middle", "titlePadding": 6, "labels": false, "ticks": false, "domain": false, "grid": false, "titleFontSize": 12.5, "titleColor": "#333"}}}}
        ]
      },
      {
        "bounds": "flush", "spacing": 18,
        "hconcat": [
          {"width": 32, "height": 272, "data": {"name": "hdr"}, "mark": {"type": "rule", "opacity": 0}, "encoding": {"y": {"field": "v", "type": "quantitative", "axis": null}}},
          {
            "width": 406, "height": 272,
            "data": {"name": "ebox"},
            "layer": [
              {"data": {"name": "ezero"}, "mark": {"type": "rule", "strokeDash": [4, 3], "color": "#555", "strokeWidth": 1}, "encoding": {"y": {"field": "z", "type": "quantitative", "scale": {"domain": [-33, 30]}, "axis": {"values": [-30, -20, -10, 0, 10, 20, 30], "labelExpr": "'' + datum.value", "title": "Change in full-scale IQ from childhood", "grid": true, "tickSize": 4, "labelPadding": 2, "titlePadding": 11}}}},
              {"mark": {"type": "rule", "color": "#6b6b6b", "strokeWidth": 1.3}, "encoding": {"x": {"field": "g", "type": "ordinal", "sort": ["≤5", "6-10", "11-15", ">15"], "scale": {"type": "point", "padding": 0.571}, "axis": {"title": "Blood lead level at age 11 y, µg/dL", "labelAngle": 0, "tickSize": 4, "labelPadding": 4, "titlePadding": 8}}, "y": {"field": "lo", "type": "quantitative"}, "y2": {"field": "hi"}}},
              {"mark": {"type": "tick", "color": "#555", "size": 9, "thickness": 1.3, "opacity": 1}, "encoding": {"x": {"field": "g", "type": "ordinal", "sort": ["≤5", "6-10", "11-15", ">15"]}, "y": {"field": "lo", "type": "quantitative"}}},
              {"mark": {"type": "tick", "color": "#555", "size": 9, "thickness": 1.3, "opacity": 1}, "encoding": {"x": {"field": "g", "type": "ordinal", "sort": ["≤5", "6-10", "11-15", ">15"]}, "y": {"field": "hi", "type": "quantitative"}}},
              {"mark": {"type": "bar", "width": 25, "stroke": "#555", "strokeWidth": 1.2, "opacity": 1}, "encoding": {"x": {"field": "g", "type": "ordinal", "sort": ["≤5", "6-10", "11-15", ">15"]}, "y": {"field": "q1", "type": "quantitative"}, "y2": {"field": "q3"}, "fill": {"field": "g", "type": "nominal", "scale": {"domain": ["≤5", "6-10", "11-15", ">15"], "range": ["#FEC98B", "#547D8B", "#B9CFD8", "#DAD2C5"]}, "legend": null}}},
              {"mark": {"type": "tick", "color": "#3d3d3d", "size": 25, "thickness": 1.6, "opacity": 1}, "encoding": {"x": {"field": "g", "type": "ordinal", "sort": ["≤5", "6-10", "11-15", ">15"]}, "y": {"field": "med", "type": "quantitative"}}},
              {"data": {"name": "eout"}, "mark": {"type": "circle", "size": 30, "opacity": 1}, "encoding": {"x": {"field": "g", "type": "ordinal", "sort": ["≤5", "6-10", "11-15", ">15"]}, "y": {"field": "v", "type": "quantitative"}, "color": {"field": "g", "type": "nominal", "scale": {"domain": ["6-10", "11-15"], "range": ["#24495A", "#86ABBA"]}, "legend": null}}}
            ]
          }
        ]
      }
    ]
  }
  ]
}
]
}
